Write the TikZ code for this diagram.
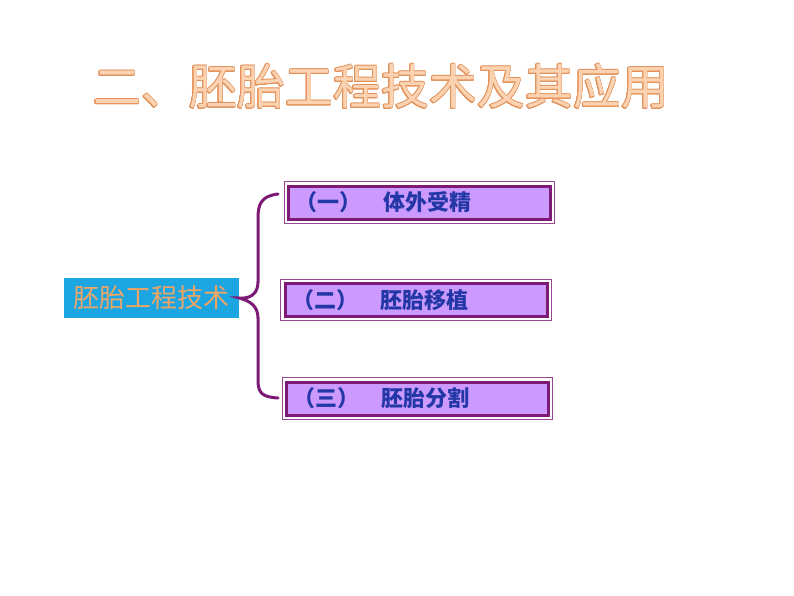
\documentclass[tikz,border=0pt]{standalone}
\usepackage{fontspec}
\usepackage{contour}
\newfontfamily\cjk{Noto Sans CJK SC}
\definecolor{peach}{HTML}{FBD3B2}
\definecolor{peachline}{HTML}{E3925A}
\definecolor{cyanbox}{HTML}{1BA6E2}
\definecolor{tan}{HTML}{EFA565}
\definecolor{plum}{HTML}{7D1A76}
\definecolor{lav}{HTML}{CC99FF}
\definecolor{navy}{HTML}{2338A6}
\contourlength{0.85pt}
\tikzset{
  itembox/.style={draw=plum, line width=3pt, fill=lav, minimum height=33pt,
    text width=248pt, inner xsep=7pt, align=left, font=\cjk\bfseries\fontsize{22}{24}\selectfont,
    text=navy},
  brace/.style={draw=plum, line width=3pt, line cap=round}
}
\begin{document}
\begin{tikzpicture}[x=1pt,y=-1pt]
\useasboundingbox (0,0) rectangle (794,596);
\fill[white] (0,0) rectangle (794,596);
% title
\node (title) at (381,87) {\cjk\fontsize{48}{52}\selectfont\textcolor{peach}{\contour{peachline}{二、胚胎工程技术及其应用}}};
% left box
\node[fill=cyanbox, minimum width=175pt, minimum height=40pt, inner sep=0pt,
  font=\cjk\fontsize{26}{28}\selectfont, text=tan] (root) at (151.5,298) {胚胎工程技术};
% item boxes
\node[itembox] (b1) at (419.5,202.5) {（一）\hspace{1em}体外受精};
\node[itembox] (b2) at (416,300) {（二）\hspace{1em}胚胎移植};
\node[itembox] (b3) at (417.5,398.5) {（三）\hspace{1em}胚胎分割};
\foreach \b in {b1,b2,b3}{
  \draw[plum!80, line width=0.8pt] ([xshift=-2.8pt,yshift=-2.8pt]\b.south west) rectangle ([xshift=2.8pt,yshift=2.8pt]\b.north east);
}
% brace
\coordinate (bt) at (278,194);
\coordinate (bb) at (278,398);
\draw[brace] (bt) .. controls (262,196) and (258,203) .. (258,218)
  -- (258,282) .. controls (258,294) and (250,299) .. (root.east)
  .. controls (250,301) and (258,306) .. (258,318)
  -- (258,380) .. controls (258,393) and (262,397) .. (bb);
\end{tikzpicture}
\end{document}
